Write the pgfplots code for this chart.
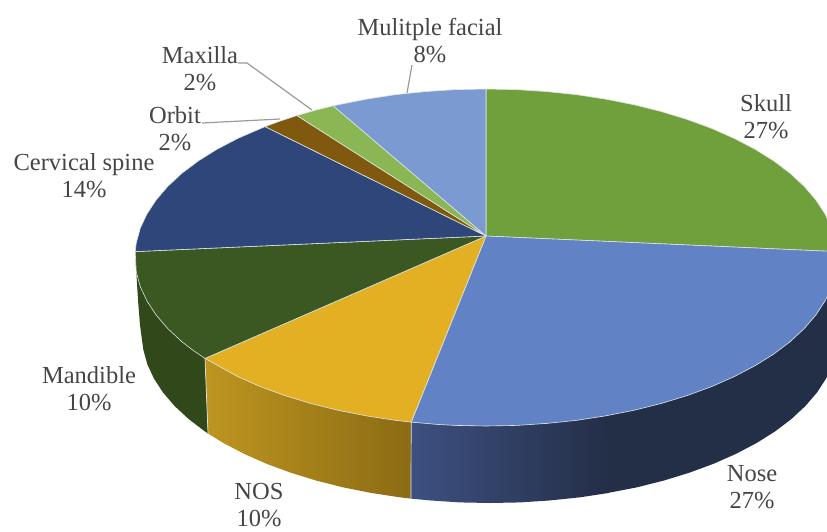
\documentclass[border=0pt]{standalone}
\usepackage{pgfplots}
\pgfplotsset{compat=1.18}
\usepackage{fontspec}
\setmainfont{Liberation Serif}
\definecolor{cSkull}{HTML}{70A03B}
\definecolor{cNose}{HTML}{6282C6}
\definecolor{cNOS}{HTML}{E3B024}
\definecolor{cMand}{HTML}{3B5722}
\definecolor{cMandW}{HTML}{30481A}
\definecolor{cCerv}{HTML}{2E4679}
\definecolor{cOrb}{HTML}{80590F}
\definecolor{cMax}{HTML}{8AB654}
\definecolor{cMul}{HTML}{7C9AD2}
\definecolor{wNOSa}{HTML}{BE9520}
\definecolor{wNOSb}{HTML}{8B6B14}
\definecolor{wNosea}{HTML}{3D5080}
\definecolor{wNoseb}{HTML}{232E47}
\definecolor{edge}{HTML}{DDE6E4}
\definecolor{lab}{HTML}{454545}
\definecolor{lead}{HTML}{9A9A9A}
\begin{document}
\begin{tikzpicture}
\path[use as bounding box] (0,0) rectangle (827pt,531pt);
\begin{axis}[
  at={(0,0)},anchor=south west,
  width=827pt,height=531pt,scale only axis,
  xmin=0,xmax=827,ymin=0,ymax=531,y dir=reverse,
  hide axis,
  every axis plot/.append style={line join=round},
]
% side walls
\addplot[fill=cMandW,draw=none] coordinates {(135.2,251.6)(140.3,286.8)(156.2,315.1)(182,341.8)(205,358.4)(208,433.5)(204.9,431.4)(188.6,419)(174.6,406)(163,392.5)(153.9,378.5)(147.3,364.2)(143.3,349.6)(140,325)(138,300)(136.5,275)} --cycle;
\addplot[left color=wNOSa,right color=wNOSb,draw=none] coordinates {(205,358.4)(237.8,376.6)(284.7,395.5)(337.7,410.2)(411.2,422.1)(411,498.6)(399.9,497.3)(371,492.9)(342.9,487.3)(316,480.5)(290.4,472.6)(266.3,463.7)(244,453.8)(223.4,443)(208,433.5)} --cycle;
\addplot[left color=wNosea,right color=wNoseb,draw=none] coordinates {(411.2,422.1)(455.4,425.4)(486,426)(546.9,423.4)(606,415.8)(609,492.9)(580.1,497.3)(550.4,500.4)(520.3,502.4)(490,503)(459.7,502.4)(429.6,500.4)(411,498.6)} --cycle;
\addplot[fill=wNoseb,draw=none] coordinates {(605,415.8)(661.5,403.4)(711.6,386.6)(754.9,365.8)(790,341.8)(815.8,315.1)(831.7,286.8)(836.8,251.6)(838,335)(832.7,364.2)(826.1,378.5)(817,392.5)(805.4,406)(791.4,419)(775.1,431.4)(756.6,443)(736.1,453.8)(713.7,463.7)(689.6,472.6)(664,480.5)(637.1,487.3)(608,492.9)} --cycle;
% wall separators
\addplot[edge,line width=0.7pt] coordinates {(205,358.4)(208,433.5)};
\addplot[edge,line width=0.7pt] coordinates {(411.2,422.1)(411,498.6)};
% top slices
\addplot[fill=cSkull,draw=edge,line width=0.6pt] coordinates {(486,236)(486,89)(516.6,89.6)(546.9,91.6)(576.8,94.7)(606,99.2)(634.3,104.8)(661.5,111.6)(687.3,119.5)(711.6,128.4)(734.2,138.4)(754.9,149.2)(773.5,160.8)(790,173.2)(804.1,186.3)(815.8,199.9)(825,213.9)(831.7,228.2)(835.7,242.8)(836.8,251.6)} --cycle;
\addplot[fill=cNose,draw=edge,line width=0.6pt] coordinates {(486,236)(836.8,251.6)(835.7,272.2)(831.7,286.8)(825,301.1)(815.8,315.1)(804.1,328.7)(790,341.8)(773.5,354.2)(754.9,365.8)(734.2,376.6)(711.6,386.6)(687.3,395.5)(661.5,403.4)(634.3,410.2)(606,415.8)(576.8,420.3)(546.9,423.4)(516.6,425.4)(486,426)(455.4,425.4)(437.1,424.4)(411.2,422.1)} --cycle;
\addplot[fill=cNOS,draw=edge,line width=0.6pt] coordinates {(486,236)(411.2,422.1)(395.2,420.3)(366,415.8)(337.7,410.2)(310.5,403.4)(284.7,395.5)(260.4,386.6)(237.8,376.6)(205,358.4)} --cycle;
\addplot[fill=cMand,draw=edge,line width=0.6pt] coordinates {(486,236)(205,358.4)(193,350.3)(182,341.8)(167.9,328.7)(156.2,315.1)(147,301.1)(140.3,286.8)(136.3,272.2)(135.2,251.6)} --cycle;
\addplot[fill=cCerv,draw=edge,line width=0.6pt] coordinates {(486,236)(135.2,251.6)(136.3,242.8)(140.3,228.2)(147,213.9)(156.2,199.9)(167.9,186.3)(182,173.2)(198.5,160.8)(217.1,149.2)(237.8,138.4)(265.1,126.6)} --cycle;
\addplot[fill=cOrb,draw=edge,line width=0.6pt] coordinates {(486,236)(265.1,126.6)(279.7,121.2)(296.9,115.5)} --cycle;
\addplot[fill=cMax,draw=edge,line width=0.6pt] coordinates {(486,236)(296.9,115.5)(315.8,110.1)(333.2,105.8)} --cycle;
\addplot[fill=cMul,draw=edge,line width=0.6pt] coordinates {(486,236)(333.2,105.8)(366,99.2)(395.2,94.7)(425.1,91.6)(455.4,89.6)(486,89)} --cycle;
% leader lines
\addplot[lead,line width=1.2pt] coordinates {(238,63)(247,63)(312,110)};
\addplot[lead,line width=1.2pt] coordinates {(202,123)(280,119)};
\addplot[lead,line width=1.2pt] coordinates {(412,65)(407,93)};
% labels
\begin{scope}[every node/.style={align=center,text=lab,font=\fontsize{24.5}{27}\selectfont,inner sep=0pt}]
\node at (axis cs:430,41) {Mulitple facial\\8\%};
\node at (axis cs:200,69) {Maxilla\\2\%};
\node at (axis cs:175,129) {Orbit\\2\%};
\node at (axis cs:84,176) {Cervical spine\\14\%};
\node at (axis cs:766,117) {Skull\\27\%};
\node at (axis cs:89,389) {Mandible\\10\%};
\node at (axis cs:259,505) {NOS\\10\%};
\node at (axis cs:752,487) {Nose\\27\%};
\end{scope}
\end{axis}
\end{tikzpicture}
\end{document}
